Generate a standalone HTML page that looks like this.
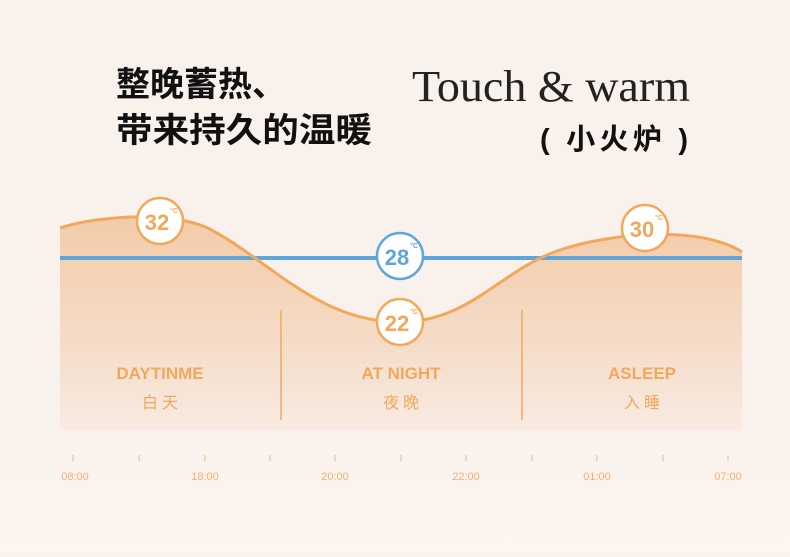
<!DOCTYPE html>
<html><head><meta charset="utf-8"><style>
body{margin:0;width:790px;height:552px;background:#f9f1eb;overflow:hidden;font-family:"Liberation Sans","Noto Sans CJK SC",sans-serif}
</style></head><body>
<svg width="790" height="552" viewBox="0 0 790 552" xmlns="http://www.w3.org/2000/svg">
<defs>
<linearGradient id="g" x1="0" y1="0" x2="0" y2="1">
<stop offset="0" stop-color="#f3cba8"/>
<stop offset="0.6" stop-color="#f5dcc8"/>
<stop offset="1" stop-color="#f8ebe2"/>
</linearGradient>
<linearGradient id="b" x1="0" y1="0" x2="0" y2="1">
<stop offset="0" stop-color="#f9f1eb"/>
<stop offset="1" stop-color="#fdf6f0"/>
</linearGradient>
</defs>
<rect x="0" y="430" width="790" height="122" fill="url(#b)"/>
<path d="M60,228 C100,215 180,210 215,232 C270,262 320,322 400,322 C470,322 500,270 560,250 C610,233 700,225 742,252 L742,430 L60,430 Z" fill="url(#g)"/>
<line x1="60" y1="258" x2="742" y2="258" stroke="#5ea5dc" stroke-width="4"/>
<path d="M60,228 C100,215 180,210 215,232 C270,262 320,322 400,322 C470,322 500,270 560,250 C610,233 700,225 742,252" fill="none" stroke="#f2a85c" stroke-width="3"/>
<line x1="281" y1="310" x2="281" y2="420" stroke="#f2a85c" stroke-width="1.5"/>
<line x1="522" y1="310" x2="522" y2="420" stroke="#f2a85c" stroke-width="1.5"/>
<g font-family="Liberation Sans,sans-serif" font-weight="bold" text-anchor="middle">
<circle cx="160" cy="221" r="23" fill="#fff" stroke="#f2a85c" stroke-width="2.5"/>
<text x="157" y="230" font-size="22" fill="#f2a85c">32</text><text x="174" y="213" font-size="7" fill="#f2a85c">°C</text>
<circle cx="400" cy="256" r="23" fill="#fff" stroke="#5ea5dc" stroke-width="2.5"/>
<text x="397" y="265" font-size="22" fill="#5ea5dc">28</text><text x="414" y="248" font-size="7" fill="#5ea5dc">°C</text>
<circle cx="400" cy="322" r="23" fill="#fff" stroke="#f2a85c" stroke-width="2.5"/>
<text x="397" y="331" font-size="22" fill="#f2a85c">22</text><text x="414" y="314" font-size="7" fill="#f2a85c">°C</text>
<circle cx="645" cy="228" r="23" fill="#fff" stroke="#f2a85c" stroke-width="2.5"/>
<text x="642" y="237" font-size="22" fill="#f2a85c">30</text><text x="659" y="220" font-size="7" fill="#f2a85c">°C</text>
<text x="160" y="379" font-size="17" fill="#f2a85c">DAYTINME</text>
<text x="401" y="379" font-size="17" fill="#f2a85c">AT NIGHT</text>
<text x="642" y="379" font-size="17" fill="#f2a85c">ASLEEP</text>
</g>
<g font-family="Liberation Sans,Noto Sans CJK SC,sans-serif" font-size="16" fill="#f2a85c" text-anchor="middle" letter-spacing="4">
<text x="162" y="408">白天</text><text x="403" y="408">夜晚</text><text x="644" y="408">入睡</text>
</g>
<g stroke="#f2b880" stroke-width="1">
<line x1="73" y1="455" x2="73" y2="461"/><line x1="139" y1="455" x2="139" y2="461"/><line x1="205" y1="455" x2="205" y2="461"/><line x1="270" y1="455" x2="270" y2="461"/><line x1="335" y1="455" x2="335" y2="461"/><line x1="401" y1="455" x2="401" y2="461"/><line x1="466" y1="455" x2="466" y2="461"/><line x1="532" y1="455" x2="532" y2="461"/><line x1="597" y1="455" x2="597" y2="461"/><line x1="663" y1="455" x2="663" y2="461"/><line x1="728" y1="455" x2="728" y2="461"/>
</g>
<g font-size="11" fill="#f2b070" text-anchor="middle">
<text x="75" y="480">08:00</text><text x="205" y="480">18:00</text><text x="335" y="480">20:00</text><text x="466" y="480">22:00</text><text x="597" y="480">01:00</text><text x="728" y="480">07:00</text>
</g>
<g font-family="Liberation Sans,Noto Sans CJK SC,sans-serif" font-weight="bold" fill="#111">
<text x="116" y="96" font-size="34" textLength="170" lengthAdjust="spacingAndGlyphs">整晚蓄热、</text>
<text x="116" y="142" font-size="34" textLength="256" lengthAdjust="spacingAndGlyphs">带来持久的温暖</text>
<text x="540" y="149" font-size="29" textLength="148" lengthAdjust="spacing">( 小火炉 )</text>
</g>
<text x="412" y="101" font-family="Liberation Serif,serif" font-size="44" fill="#222" textLength="278" lengthAdjust="spacingAndGlyphs">Touch &amp; warm</text>
</svg>
</body></html>
